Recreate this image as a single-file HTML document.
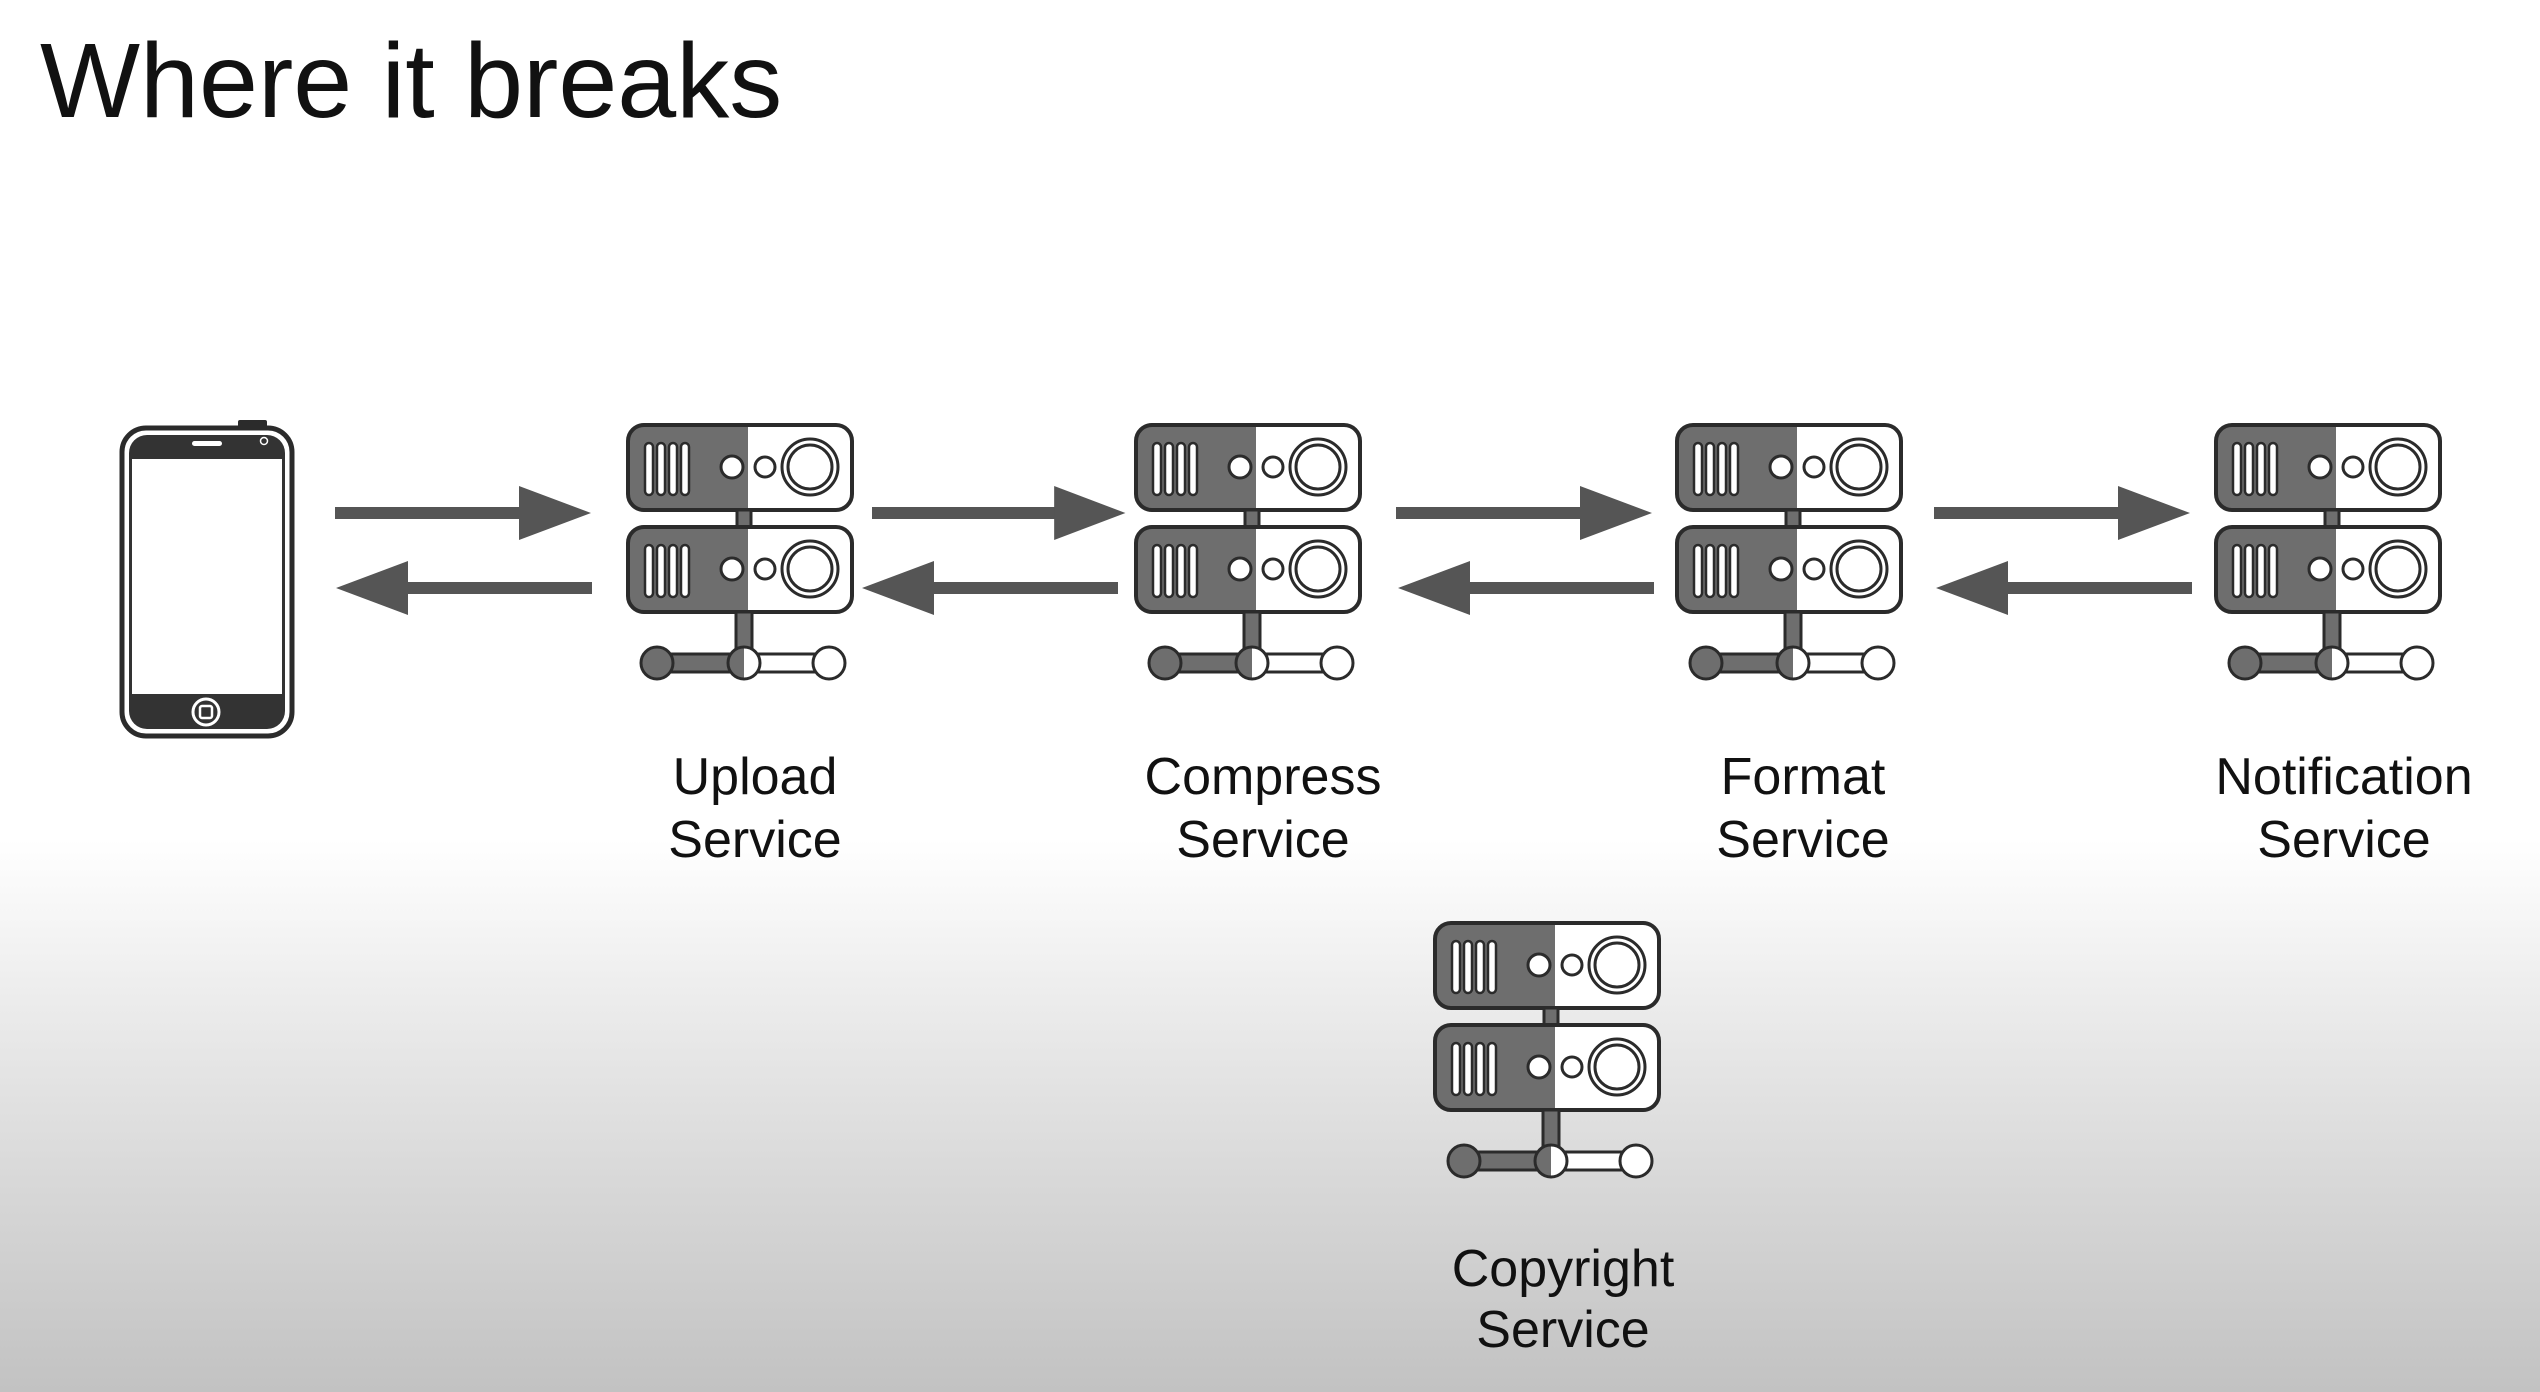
<!DOCTYPE html>
<html><head><meta charset="utf-8"><style>
html,body{margin:0;padding:0}
body{width:2540px;height:1392px;overflow:hidden;background:linear-gradient(to bottom,#fff 0px,#fff 840px,#ececec 1000px,#d6d6d6 1200px,#c2c2c2 1392px);font-family:"Liberation Sans",sans-serif}
</style></head><body>
<svg width="2540" height="1392" viewBox="0 0 2540 1392" xmlns="http://www.w3.org/2000/svg" style="position:absolute;left:0;top:0">
<defs>
<g id="box">
  <rect x="0" y="0" width="224" height="85" rx="16" fill="#fff"/>
  <path d="M16 0 H120 V85 H16 A16 16 0 0 1 0 69 V16 A16 16 0 0 1 16 0 Z" fill="#6e6e6e"/>
  <rect x="0" y="0" width="224" height="85" rx="16" fill="none" stroke="#2b2b2b" stroke-width="4"/>
  <g fill="#fff" stroke="#2b2b2b" stroke-width="2.5">
    <rect x="17" y="18" width="8" height="52" rx="4"/>
    <rect x="29" y="18" width="8" height="52" rx="4"/>
    <rect x="41" y="18" width="8" height="52" rx="4"/>
    <rect x="53" y="18" width="8" height="52" rx="4"/>
    <circle cx="104" cy="42" r="11" stroke-width="3"/>
    <circle cx="137" cy="42" r="10" stroke-width="3"/>
    <circle cx="182" cy="42" r="28" stroke-width="3"/>
    <circle cx="182" cy="42" r="22" stroke-width="3"/>
  </g>
</g>
<g id="srv">
  <use href="#box"/>
  <rect x="109" y="85" width="14" height="17" fill="#6e6e6e" stroke="#2b2b2b" stroke-width="3"/>
  <use href="#box" y="102"/>
  <rect x="108" y="187" width="16" height="46" fill="#6e6e6e" stroke="#2b2b2b" stroke-width="3"/>
  <rect x="29" y="229" width="88" height="18" fill="#6e6e6e" stroke="#2b2b2b" stroke-width="3"/>
  <rect x="117" y="229" width="84" height="18" fill="#fff" stroke="#2b2b2b" stroke-width="3"/>
  <circle cx="29" cy="238" r="16" fill="#6e6e6e" stroke="#2b2b2b" stroke-width="3"/>
  <circle cx="201" cy="238" r="16" fill="#fff" stroke="#2b2b2b" stroke-width="3"/>
  <path d="M116 222 A16 16 0 0 0 116 254 Z" fill="#6e6e6e"/>
  <path d="M116 222 A16 16 0 0 1 116 254 Z" fill="#fff"/>
  <circle cx="116" cy="238" r="16" fill="none" stroke="#2b2b2b" stroke-width="3"/>
</g>
<g id="arr">
  <rect x="0" y="-6" width="186" height="12" fill="#555"/>
  <polygon points="184,-27 256,0 184,27" fill="#555"/>
</g>
</defs>

<text x="40" y="117" font-size="106" fill="#111" font-family="Liberation Sans, sans-serif">Where it breaks</text>

<!-- phone -->
<rect x="122" y="428" width="170" height="308" rx="24" fill="#fff" stroke="#2b2b2b" stroke-width="5"/>
<rect x="238" y="420" width="29" height="9" rx="2" fill="#2b2b2b"/>
<rect x="129" y="435" width="156" height="294" rx="18" fill="#333"/>
<rect x="132" y="459" width="150" height="235" fill="#fff"/>
<rect x="192" y="441" width="30" height="5" rx="2.5" fill="#fff"/>
<circle cx="264" cy="441" r="3.5" fill="none" stroke="#fff" stroke-width="1.5"/>
<circle cx="206" cy="712" r="13" fill="none" stroke="#fff" stroke-width="3"/>
<rect x="200" y="706" width="12" height="12" rx="2" fill="none" stroke="#fff" stroke-width="2.5"/>

<!-- arrows -->
<use href="#arr" transform="translate(335,513)"/>
<use href="#arr" transform="translate(592,588) scale(-1,1)"/>
<use href="#arr" transform="translate(872,513) scale(0.99,1)"/>
<use href="#arr" transform="translate(1118,588) scale(-1,1)"/>
<use href="#arr" transform="translate(1396,513)"/>
<use href="#arr" transform="translate(1654,588) scale(-1,1)"/>
<use href="#arr" transform="translate(1934,513)"/>
<use href="#arr" transform="translate(2192,588) scale(-1,1)"/>

<use href="#srv" x="628" y="425"/>
<use href="#srv" x="1136" y="425"/>
<use href="#srv" x="1677" y="425"/>
<use href="#srv" x="2216" y="425"/>
<use href="#srv" x="1435" y="923"/>

<g font-family="Liberation Sans, sans-serif" font-size="52" fill="#111" text-anchor="middle">
<text x="755" y="794">Upload</text><text x="755" y="857">Service</text>
<text x="1263" y="794">Compress</text><text x="1263" y="857">Service</text>
<text x="1803" y="794">Format</text><text x="1803" y="857">Service</text>
<text x="2344" y="794">Notification</text><text x="2344" y="857">Service</text>
<text x="1563" y="1286">Copyright</text><text x="1563" y="1347">Service</text>
</g>
</svg>
</body></html>
